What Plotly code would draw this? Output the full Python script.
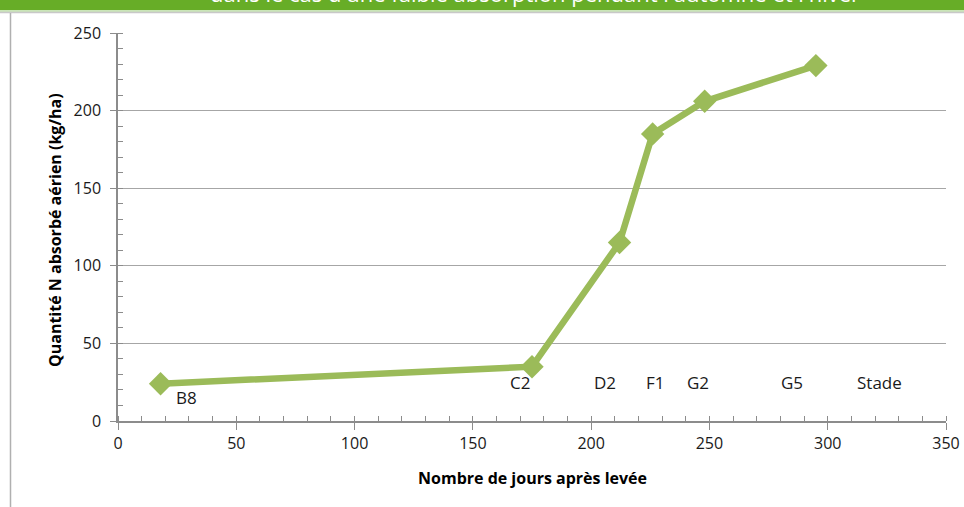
import plotly.graph_objects as go

days = [18, 175, 212, 226, 248, 295]
n_absorbed = [24, 35, 115, 185, 206, 229]

stage_labels = ["B8", "C2", "D2", "F1", "G2", "G5", "Stade"]
stage_x = [29, 170, 206, 227, 245, 285, 322]
stage_y = [15, 24.5, 24.5, 24.5, 24.5, 24.5, 24.5]

banner_text = "dans le cas d'une faible absorption pendant l'automne et l'hiver"
x_title = "<b>Nombre de jours après levée</b>"
y_title = "<b>Quantité N absorbé aérien (kg/ha)</b>"

W, H = 964, 507
L, R, T, B = 118, 18, 33, 86
ph = H - T - B
pw = W - L - R

def py(px):
    return 1 + (T - px) / ph

def pxp(px):
    return (px - L) / pw

fig = go.Figure()
fig.add_trace(go.Scatter(
    x=days, y=n_absorbed, mode="lines+markers",
    line=dict(color="#9bbb59", width=6.5),
    marker=dict(symbol="diamond", size=18, color="#9bbb59"),
    showlegend=False, hoverinfo="x+y",
))

for lab, x, y in zip(stage_labels, stage_x, stage_y):
    fig.add_annotation(x=x, y=y, text=lab, showarrow=False,
                       font=dict(family="Open Sans, Liberation Sans, sans-serif", size=17, color="#1a1a1a"),
                       xanchor="center", yanchor="middle")

shapes = [
    dict(type="rect", xref="paper", yref="paper", x0=-0.2, x1=1.1, y0=py(10), y1=py(-5),
         fillcolor="#67ad27", line=dict(width=0), layer="below"),
    dict(type="line", xref="paper", yref="paper", x0=-0.2, x1=1.1, y0=py(11), y1=py(11),
         line=dict(color="#b9dca0", width=1.5)),
    dict(type="line", xref="paper", yref="paper", x0=-0.2, x1=1.1, y0=py(12.5), y1=py(12.5),
         line=dict(color="#c8c8c8", width=1.5)),
    dict(type="line", xref="paper", yref="paper", x0=pxp(10.5), x1=pxp(10.5), y0=py(13), y1=py(510),
         line=dict(color="#b0b0b0", width=1.5)),
]

fig.add_annotation(xref="paper", yref="paper", x=pxp(535), y=py(-7), text=banner_text,
                   showarrow=False, xanchor="center", yanchor="middle",
                   font=dict(family="Open Sans, sans-serif", size=22, color="white"))

title_font = dict(family="Open Sans, Liberation Sans, sans-serif", size=16, color="#000000")
fig.add_annotation(xref="paper", yref="paper", x=pxp(532), y=py(478), text=x_title,
                   showarrow=False, xanchor="center", yanchor="middle", font=title_font)
fig.add_annotation(xref="paper", yref="paper", x=pxp(55), y=py(230), text=y_title,
                   showarrow=False, xanchor="center", yanchor="middle", textangle=-90, font=title_font)

axis_font = dict(family="Open Sans, Liberation Sans, sans-serif", size=16, color="#1a1a1a")

fig.update_layout(
    width=W, height=H,
    margin=dict(l=L, r=R, t=T, b=B, autoexpand=False),
    paper_bgcolor="white", plot_bgcolor="white",
    shapes=shapes,
    xaxis=dict(range=[0, 350], dtick=50, tick0=0, showgrid=False, zeroline=False, automargin=False,
               showline=True, linecolor="#8c8c8c", linewidth=1.5,
               ticks="outside", ticklen=7, tickcolor="#8c8c8c",
               minor=dict(dtick=10, ticks="inside", ticklen=5, tickcolor="#8c8c8c"),
               tickfont=axis_font),
    yaxis=dict(range=[0, 250], dtick=50, tick0=0, showgrid=True, gridcolor="#a6a6a6", gridwidth=1.3,
               zeroline=False, showline=True, linecolor="#8c8c8c", linewidth=1.5, automargin=False,
               ticks="outside", ticklen=6, tickcolor="#8c8c8c", ticklabelstandoff=6,
               minor=dict(dtick=10, ticks="inside", ticklen=5, tickcolor="#8c8c8c", showgrid=False),
               tickfont=axis_font),
)

fig.write_html("out.html", config={"displayModeBar": False},
               post_script="document.body.style.margin='0';document.body.style.overflow='hidden';")
